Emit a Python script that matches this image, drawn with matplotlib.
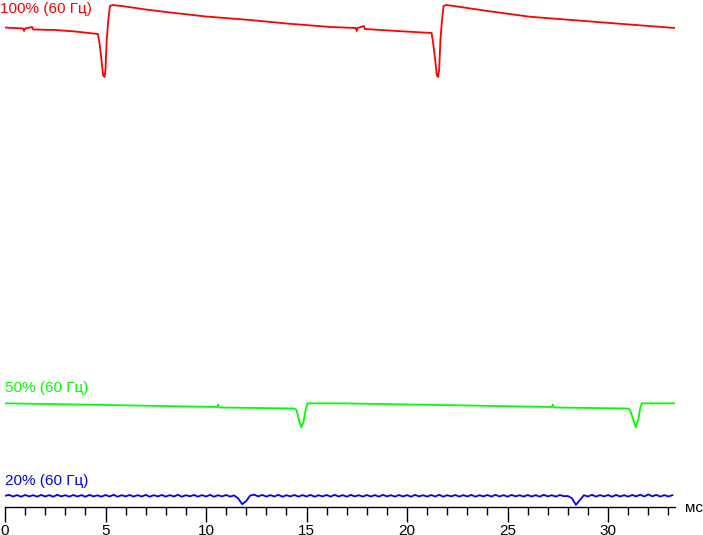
import numpy as np
import matplotlib.pyplot as plt

plt.rcParams['font.family'] = ['Liberation Sans', 'DejaVu Sans']

# brightness traces, arbitrary units, time in ms
red_t = [0, 0.9, 0.95, 1.0, 1.35, 1.4, 2.5, 3.5, 4.62, 4.7, 4.8, 4.88, 4.95, 5.0, 5.06, 5.14, 5.22, 5.35,
         6.0, 7.0, 8.0, 10.0, 12.2, 14.0, 16.2, 17.45, 17.5, 17.55, 17.85, 17.9, 19.5, 21.22, 21.3, 21.4,
         21.48, 21.55, 21.6, 21.66, 21.74, 21.82, 21.95, 22.5, 24.0, 26.1, 29.45, 33.33]
red_v = [481.5, 480.5, 478, 480.5, 482, 479.5, 479, 477.5, 475, 466, 449, 434, 432, 440, 469, 489, 503, 504,
         502.5, 499.5, 497, 492.5, 489, 485.5, 482, 481, 478, 481, 483, 480, 478, 476, 466, 449,
         434, 432, 440, 469, 489, 503, 504, 502.5, 498, 492.3, 487, 481]

green_t = [0, 5, 10.55, 10.6, 10.65, 14.4, 14.5, 14.6, 14.73, 14.85, 14.95, 15.05, 16.6, 21.6,
           27.2, 27.25, 27.3, 31.0, 31.1, 31.22, 31.38, 31.5, 31.6, 31.68, 33.33]
green_v = [105.7, 104, 102, 104.5, 101.5, 100.5, 99, 91, 81.7, 87, 99, 105.7, 105.7, 104,
           102, 104.5, 101.5, 100.5, 99, 91, 81.7, 89, 101, 105.7, 105.7]

# blue sampled every 0.2 ms
blue_v = [13.2, 14.1, 12.5, 13.9, 12.3, 14.0, 12.6, 13.8, 12.4, 14.1,
          12.5, 13.9, 12.3, 14.2, 12.6, 13.8, 12.4, 14.0, 12.5, 13.9,
          12.3, 14.1, 12.6, 13.7, 12.4, 14.0, 12.5, 14.2, 12.3, 13.8,
          12.6, 14.0, 12.4, 13.9, 12.5, 14.1, 12.3, 13.8, 12.6, 14.0,
          12.4, 13.9, 12.5, 14.2, 12.3, 13.8, 12.7, 14.0, 12.4, 13.9,
          12.5, 14.1, 12.3, 13.8, 12.6, 14.0, 12.4, 13.6, 10.5, 4.8,
          8.0, 13.5, 14.3, 12.6, 14.1, 12.4, 13.9, 12.5, 14.2, 12.3,
          13.8, 12.6, 14.0, 12.4, 13.9, 12.5, 14.1, 12.3, 13.8, 12.6,
          14.0, 12.4, 14.2, 12.5, 13.9, 12.3, 14.1, 12.6, 13.8, 12.4,
          14.0, 12.5, 13.9, 12.3, 14.2, 12.6, 13.8, 12.4, 14.0, 12.5,
          13.9, 12.3, 14.1, 12.6, 13.8, 12.4, 14.0, 12.5, 14.2, 12.3,
          13.8, 12.6, 14.0, 12.4, 13.9, 12.5, 14.1, 12.3, 13.8, 12.6,
          14.0, 12.4, 14.2, 12.5, 13.9, 12.3, 14.1, 12.6, 13.8, 12.4,
          14.0, 12.5, 13.9, 12.3, 14.2, 12.6, 13.8, 12.4, 14.0, 12.8,
          13.0, 10.8, 4.2, 9.0, 13.8, 12.5, 14.2, 12.4, 13.9, 12.6,
          14.0, 12.3, 14.1, 12.5, 13.8, 12.4, 14.0, 12.6, 14.3, 12.5,
          14.6, 12.7, 14.1, 12.4, 13.9, 12.5, 13.8]
blue_t = np.arange(len(blue_v)) * 0.2

labels = ['100% (60 Гц)', '50% (60 Гц)', '20% (60 Гц)']
colors = ['#ff0000', '#00ff00', '#0000ff']

fig = plt.figure(figsize=(7.03, 5.35), dpi=100)
ax = fig.add_axes([5 / 703, 28 / 535, 670 / 703, 507 / 535])

ax.plot(red_t, red_v, color=colors[0], lw=1.3)
ax.plot(green_t, green_v, color=colors[1], lw=1.3)
ax.plot(blue_t, blue_v, color=colors[2], lw=1.3)

ax.set_xlim(0, 33.33)
ax.set_ylim(2, 509)

for s in ['top', 'right', 'left']:
    ax.spines[s].set_visible(False)
ax.spines['bottom'].set_linewidth(1)
ax.set_yticks([])
ax.set_xticks(range(0, 35, 5))
ax.set_xticks(range(0, 34), minor=True)
ax.tick_params(axis='x', which='major', length=11, width=1, pad=1.5, labelsize=11)
ax.tick_params(axis='x', which='minor', length=6, width=1)

# trace labels
fig.text(0 / 703, 1 - 9 / 535, labels[0], color=colors[0], fontsize=11, va='center', ha='left')
fig.text(5 / 703, 1 - 388 / 535, labels[1], color=colors[1], fontsize=11, va='center', ha='left')
fig.text(5 / 703, 1 - 481 / 535, labels[2], color=colors[2], fontsize=11, va='center', ha='left')
fig.text(685 / 703, 1 - 508 / 535, 'мс', fontsize=11, va='center', ha='left')

plt.savefig('out.png')
